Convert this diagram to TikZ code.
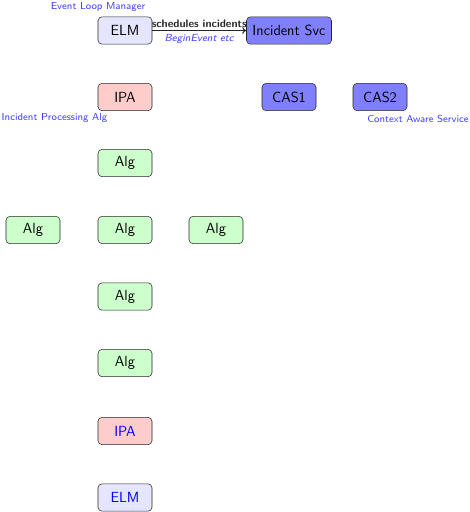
\documentclass[tikz,border=0pt]{standalone}
\usetikzlibrary{arrows.meta}
\renewcommand{\familydefault}{\sfdefault}
\begin{document}
\begin{tikzpicture}[x=0.75pt,y=-0.75pt,
  box/.style={draw=black!85, rounded corners=3pt, minimum width=40.5pt,
    minimum height=20.5pt, inner xsep=4.5pt, inner ysep=2pt,
    font=\sffamily\fontsize{11}{13}\selectfont},
  elm/.style={box, fill=blue!10},
  ipa/.style={box, fill=red!20},
  alg/.style={box, fill=green!20},
  svc/.style={box, fill=blue!50},
  note/.style={text=blue!75, font=\sffamily\fontsize{7.6}{9}\selectfont, inner sep=1pt},
  lbl/.style={font=\sffamily\bfseries\fontsize{8.2}{10}\selectfont, inner sep=1pt},
  ilbl/.style={text=blue!75, font=\sffamily\itshape\fontsize{7.7}{9}\selectfont, inner sep=1pt}]
\useasboundingbox (0,0) rectangle (470,512);

% main column
\node[elm] (elm) at (125,30.5) {ELM};
\node[svc] (svc) at (289,30.5) {Incident Svc};
\node[ipa] (ipa) at (125,97) {IPA};
\node[svc] (cas1) at (289,97) {CAS1};
\node[svc] (cas2) at (380,97) {CAS2};
\node[alg] (alg1) at (125,163) {Alg};
\node[alg] (alg2l) at (33,230) {Alg};
\node[alg] (alg2) at (125,230) {Alg};
\node[alg] (alg2r) at (216,230) {Alg};
\node[alg] (alg3) at (125,296.5) {Alg};
\node[alg] (alg4) at (125,363) {Alg};
\node[ipa, text=blue] (ipa2) at (125,431) {IPA};
\node[elm, text=blue] (elm2) at (125,497.5) {ELM};

% annotations
\node[note] (nelm) at (98,7.5) {Event Loop Manager};
\node[note] (nipa) at (54.5,118.5) {Incident Processing Alg};
\node[note] (ncas) at (418,118.5) {Context Aware Service};

% scheduling arrow
\draw[-{To[length=3pt,width=5pt]}, thick, black!85] (elm) -- (svc)
  node[midway, above=0.5pt, lbl] {schedules incidents}
  node[midway, below=1.5pt, ilbl] {BeginEvent etc};
\end{tikzpicture}
\end{document}
